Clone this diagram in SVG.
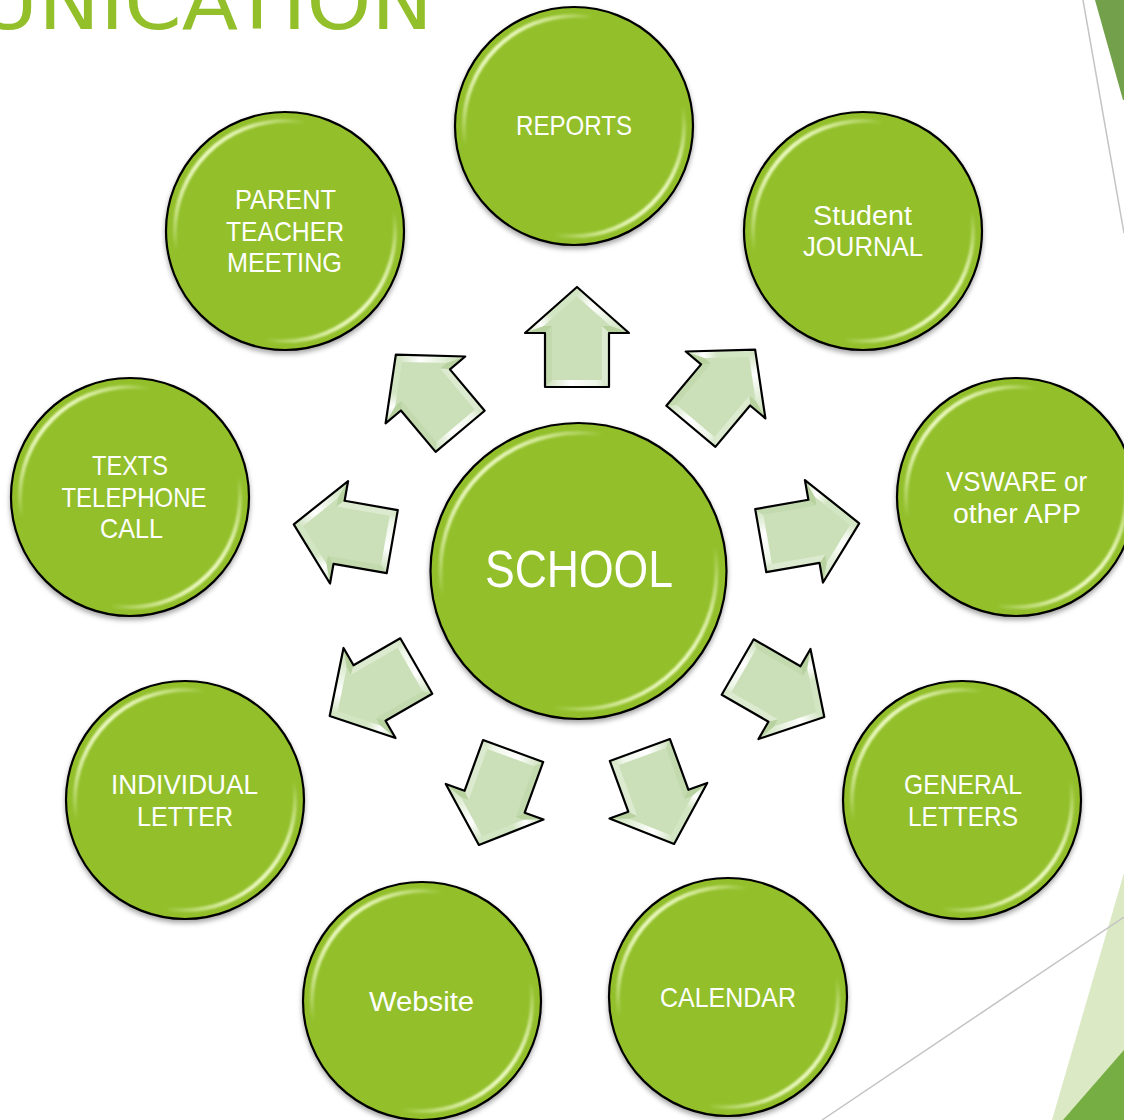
<svg xmlns="http://www.w3.org/2000/svg" xmlns:xlink="http://www.w3.org/1999/xlink" width="1124" height="1120" viewBox="0 0 1124 1120">
<style>
.ball{fill:#92bf2a;stroke:#000;stroke-width:2.2}
.gloss{fill:none;stroke:url(#glossGrad);stroke-width:4;filter:url(#soft)}
.lbl{fill:#fff;font-family:"Liberation Sans",Arial,sans-serif;font-size:27.5px;text-anchor:middle}
.big{font-size:52px}
.deco{stroke:#c4c4c4;stroke-width:1.5;fill:none}
</style>
<defs>
<filter id="shadow" x="-20%" y="-20%" width="140%" height="140%">
<feDropShadow dx="0" dy="3" stdDeviation="2.5" flood-color="#000" flood-opacity="0.35"/>
</filter>
<filter id="soft" x="-10%" y="-10%" width="120%" height="120%">
<feGaussianBlur stdDeviation="1.1"/>
</filter>
<linearGradient id="glossGrad" x1="0" y1="0" x2="1" y2="1">
<stop offset="0" stop-color="#f4ffcf" stop-opacity="0"/>
<stop offset="0.14" stop-color="#f4ffcf" stop-opacity="0.95"/>
<stop offset="0.3" stop-color="#f4ffcf" stop-opacity="0"/>
<stop offset="0.7" stop-color="#f4ffcf" stop-opacity="0"/>
<stop offset="0.86" stop-color="#f4ffcf" stop-opacity="0.95"/>
<stop offset="1" stop-color="#f4ffcf" stop-opacity="0"/>
</linearGradient>
<linearGradient id="hlR" gradientUnits="userSpaceOnUse" x1="0" y1="-50" x2="52" y2="-4">
<stop offset="0" stop-color="#cbe0b9"/>
<stop offset="0.35" stop-color="#ffffff"/>
<stop offset="0.8" stop-color="#d8e9ca"/>
<stop offset="1" stop-color="#cbe0b9"/>
</linearGradient>
<linearGradient id="hlB" gradientUnits="userSpaceOnUse" x1="-32" y1="0" x2="32" y2="0">
<stop offset="0" stop-color="#cbe0b9"/>
<stop offset="0.4" stop-color="#ffffff"/>
<stop offset="0.8" stop-color="#eef6e8"/>
<stop offset="1" stop-color="#cbe0b9"/>
</linearGradient>
<linearGradient id="hlL" gradientUnits="userSpaceOnUse" x1="0" y1="-50" x2="-52" y2="-4">
<stop offset="0" stop-color="#d3e6c3"/>
<stop offset="0.55" stop-color="#d3e6c3"/>
<stop offset="0.75" stop-color="#ffffff"/>
<stop offset="1" stop-color="#cbe0b9"/>
</linearGradient>
<g id="arrow">
<polygon points="0,-50 52,-4 32,-4 32,50 -32,50 -32,-4 -52,-4" fill="#cbe0b9"/>
<polygon points="0,-50 52,-4 33.5,-11 0,-40.6" fill="url(#hlR)"/>
<polygon points="52,-4 32,-4 25,-11 33.5,-11" fill="#b7d19f"/>
<polygon points="32,-4 32,50 25,43 25,-11" fill="#dcebd0"/>
<polygon points="32,50 -32,50 -25,43 25,43" fill="url(#hlB)"/>
<polygon points="-32,50 -32,-4 -25,-11 -25,43" fill="#c3d9ae"/>
<polygon points="-32,-4 -52,-4 -33.5,-11 -25,-11" fill="#b7d19f"/>
<polygon points="-52,-4 0,-50 0,-40.6 -33.5,-11" fill="url(#hlL)"/>
<polygon points="0,-50 52,-4 32,-4 32,50 -32,50 -32,-4 -52,-4" fill="none" stroke="#000" stroke-width="2.2" stroke-linejoin="round"/>
</g>
</defs>
<rect width="1124" height="1120" fill="#fff"/>

<g id="decoration">
<text x="-22" y="29" font-family="DejaVu Sans, sans-serif" font-size="76" fill="#92bf2a" textLength="455" lengthAdjust="spacingAndGlyphs">UNICATION</text>
<polygon points="1095,0 1123,100 1124,100 1124,0" fill="#72a04b"/>
<line class="deco" x1="1083" y1="0" x2="1124" y2="233"/>
<polygon points="1124,873 1052,1120 1124,1120" fill="#dbe9c4"/>
<polygon points="1063,1120 1124,1050 1124,1120" fill="#76ae43"/>
<line class="deco" x1="822" y1="1120" x2="1124" y2="917"/>
</g>

<g id="connectors">
<use xlink:href="#arrow" transform="translate(577,337) rotate(0)"/>
<use xlink:href="#arrow" transform="translate(723,388) rotate(40)"/>
<use xlink:href="#arrow" transform="translate(810,532) rotate(80)"/>
<use xlink:href="#arrow" transform="translate(781,692) rotate(120)"/>
<use xlink:href="#arrow" transform="translate(657,797) rotate(160)"/>
<use xlink:href="#arrow" transform="translate(496,798) rotate(200)"/>
<use xlink:href="#arrow" transform="translate(373,691) rotate(240)"/>
<use xlink:href="#arrow" transform="translate(343,533) rotate(280)"/>
<use xlink:href="#arrow" transform="translate(428,393) rotate(320)"/>
</g>

<g id="school">
<circle class="ball" cx="578.5" cy="571" r="148" filter="url(#shadow)"/>
<circle class="gloss" cx="578.5" cy="571" r="138"/>
<text class="lbl big" x="579" y="587" textLength="188" lengthAdjust="spacingAndGlyphs">SCHOOL</text>
</g>

<g id="reports">
<circle class="ball" cx="574" cy="126" r="119" filter="url(#shadow)"/>
<circle class="gloss" cx="574" cy="126" r="110"/>
<text class="lbl" x="574" y="135" textLength="116" lengthAdjust="spacingAndGlyphs">REPORTS</text>
</g>

<g id="student-journal">
<circle class="ball" cx="863" cy="231" r="119" filter="url(#shadow)"/>
<circle class="gloss" cx="863" cy="231" r="110"/>
<text class="lbl" x="862.5" y="224.5" textLength="99" lengthAdjust="spacingAndGlyphs">Student</text>
<text class="lbl" x="863" y="256" textLength="120" lengthAdjust="spacingAndGlyphs">JOURNAL</text>
</g>

<g id="vsware">
<circle class="ball" cx="1016" cy="497" r="119" filter="url(#shadow)"/>
<circle class="gloss" cx="1016" cy="497" r="110"/>
<text class="lbl" x="1016.5" y="491" textLength="141" lengthAdjust="spacingAndGlyphs">VSWARE or</text>
<text class="lbl" x="1017" y="522.5" textLength="128" lengthAdjust="spacingAndGlyphs">other APP</text>
</g>

<g id="general-letters">
<circle class="ball" cx="962" cy="800" r="119" filter="url(#shadow)"/>
<circle class="gloss" cx="962" cy="800" r="110"/>
<text class="lbl" x="963" y="794" textLength="118" lengthAdjust="spacingAndGlyphs">GENERAL</text>
<text class="lbl" x="963" y="825.5" textLength="110" lengthAdjust="spacingAndGlyphs">LETTERS</text>
</g>

<g id="calendar">
<circle class="ball" cx="728" cy="997" r="119" filter="url(#shadow)"/>
<circle class="gloss" cx="728" cy="997" r="110"/>
<text class="lbl" x="728" y="1007" textLength="136" lengthAdjust="spacingAndGlyphs">CALENDAR</text>
</g>

<g id="website">
<circle class="ball" cx="422" cy="1001" r="119" filter="url(#shadow)"/>
<circle class="gloss" cx="422" cy="1001" r="110"/>
<text class="lbl" x="421.5" y="1011" textLength="105" lengthAdjust="spacingAndGlyphs">Website</text>
</g>

<g id="individual-letter">
<circle class="ball" cx="185" cy="800" r="119" filter="url(#shadow)"/>
<circle class="gloss" cx="185" cy="800" r="110"/>
<text class="lbl" x="184.5" y="794" textLength="147" lengthAdjust="spacingAndGlyphs">INDIVIDUAL</text>
<text class="lbl" x="185" y="825.5" textLength="96" lengthAdjust="spacingAndGlyphs">LETTER</text>
</g>

<g id="texts-telephone">
<circle class="ball" cx="130" cy="497" r="119" filter="url(#shadow)"/>
<circle class="gloss" cx="130" cy="497" r="110"/>
<text class="lbl" x="130" y="475" textLength="76" lengthAdjust="spacingAndGlyphs">TEXTS</text>
<text class="lbl" x="134" y="506.5" textLength="145" lengthAdjust="spacingAndGlyphs">TELEPHONE</text>
<text class="lbl" x="131.5" y="538" textLength="63" lengthAdjust="spacingAndGlyphs">CALL</text>
</g>

<g id="parent-teacher">
<circle class="ball" cx="285" cy="231" r="119" filter="url(#shadow)"/>
<circle class="gloss" cx="285" cy="231" r="110"/>
<text class="lbl" x="285.5" y="209" textLength="101" lengthAdjust="spacingAndGlyphs">PARENT</text>
<text class="lbl" x="285" y="240.5" textLength="118" lengthAdjust="spacingAndGlyphs">TEACHER</text>
<text class="lbl" x="284.5" y="272" textLength="115" lengthAdjust="spacingAndGlyphs">MEETING</text>
</g>
</svg>
